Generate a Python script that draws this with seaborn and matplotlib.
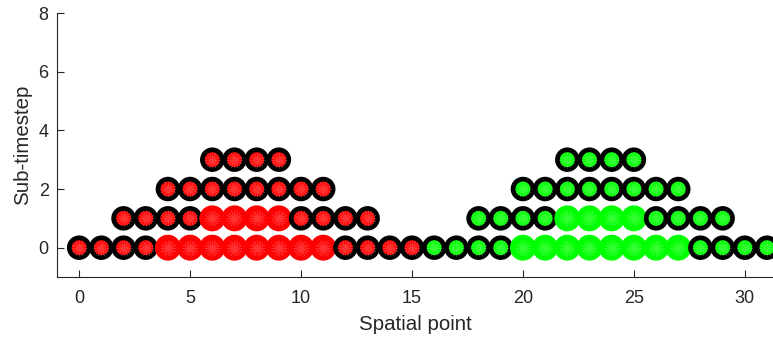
import numpy as np
import pandas as pd
import seaborn as sns
import matplotlib
matplotlib.use("Agg")
import matplotlib.pyplot as plt

# Spatial points per sub-timestep row, split by region and by whether the
# point is an interior (plain) or boundary (ringed) point.
red_ringed = {
    0: [0, 1, 2, 3, 12, 13, 14, 15],
    1: [2, 3, 4, 5, 10, 11, 12, 13],
    2: [4, 5, 6, 7, 8, 9, 10, 11],
    3: [6, 7, 8, 9],
}
red_plain = {
    0: [4, 5, 6, 7, 8, 9, 10, 11],
    1: [6, 7, 8, 9],
}
green_ringed = {
    0: [16, 17, 18, 19, 28, 29, 30, 31],
    1: [18, 19, 20, 21, 26, 27, 28, 29],
    2: [20, 21, 22, 23, 24, 25, 26, 27],
    3: [22, 23, 24, 25],
}
green_plain = {
    0: [20, 21, 22, 23, 24, 25, 26, 27],
    1: [22, 23, 24, 25],
}

x_ticks = [0, 5, 10, 15, 20, 25, 30]
y_ticks = [0, 2, 4, 6, 8]

RED = "#ff0000"
GREEN = "#00ff00"

rows = []
for group, table, ringed in [("red", red_ringed, True), ("red", red_plain, False),
                             ("green", green_ringed, True), ("green", green_plain, False)]:
    for step, xs in table.items():
        for x in xs:
            rows.append({"point": x, "step": step, "group": group, "ringed": ringed})
df = pd.DataFrame(rows).sort_values(["step", "point"]).reset_index(drop=True)

fill = {"red": RED, "green": GREEN}
edge_colors = [("black" if r else fill[g]) for g, r in zip(df["group"], df["ringed"])]
edge_widths = [(3.45 if r else 4.5) for r in df["ringed"]]

sns.set_theme(style="white")
plt.rcParams["font.family"] = ["Liberation Sans", "DejaVu Sans"]
dark = "#262626"

fig = plt.figure(figsize=(7.73, 3.37), dpi=100)
ax = fig.add_axes([0.0737, 0.178, 0.9263, 0.7834])

sns.scatterplot(data=df, x="point", y="step", hue="group",
                palette=fill, s=201, edgecolor=edge_colors,
                linewidth=edge_widths, legend=False, ax=ax, zorder=3)
# faint spokes inside each marker
sns.scatterplot(data=df, x="point", y="step", marker=(16, 2, 0), s=120,
                color="white", alpha=0.2, linewidth=0.5, legend=False,
                ax=ax, zorder=4)

ax.set_xlim(-1, 31.27)
ax.set_ylim(-1, 8)
ax.set_xticks(x_ticks)
ax.set_yticks(y_ticks)
ax.set_xlabel("Spatial point", fontsize=14.8, color=dark, labelpad=6)
ax.set_ylabel("Sub-timestep", fontsize=14.8, color=dark, labelpad=5)
ax.tick_params(direction="in", length=5, width=0.8, colors=dark,
               labelsize=13, bottom=True, left=True)
ax.tick_params(axis="x", pad=9)
ax.tick_params(axis="y", pad=6)
for side in ["top", "right"]:
    ax.spines[side].set_visible(False)
for side in ["left", "bottom"]:
    ax.spines[side].set_color(dark)
    ax.spines[side].set_linewidth(0.8)

fig.savefig("out.png", dpi=100)
